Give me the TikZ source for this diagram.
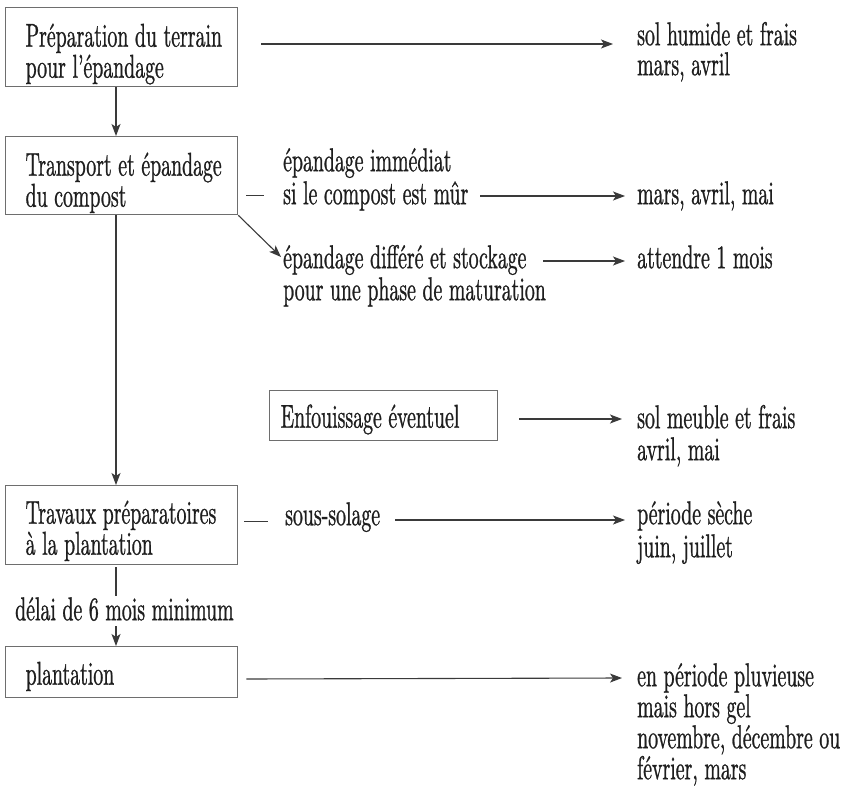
\documentclass[tikz,border=0pt]{standalone}
\usepackage{fontspec}
\setmainfont{lmroman10-regular.otf}[FakeStretch=0.6,FakeBold=0.8]
\usetikzlibrary{calc,arrows.meta}
\definecolor{linec}{HTML}{3A3A3A}
\definecolor{boxc}{HTML}{6E6E6E}
\definecolor{txtc}{HTML}{1E1E1E}
\newcommand{\fstrut}{\rule{0pt}{24pt}}
\newcommand{\tstrut}[1]{\rule{0pt}{#1}}
\newcommand{\dstrut}[1]{\rule[-#1]{0pt}{#1}}
\newcommand{\boxline}[1]{\mbox{\spaceskip=6.6pt\relax #1}}
\begin{document}
\begin{tikzpicture}[x=1pt,y=1pt,
  boxnode/.style={draw=boxc, line width=1.3pt, inner xsep=20pt, inner ysep=0pt,
    text width=192pt, anchor=north west, text=txtc,
    font=\fontsize{33}{31}\selectfont},
  txt/.style={inner sep=0pt, anchor=north west, align=left, text=txtc,
    font=\fontsize{33}{32}\selectfont},
  conn/.style={draw=linec, line width=1.1pt},
  arr/.style={draw=linec, line width=1.1pt, -{Stealth[length=12pt,width=9pt,inset=3pt]}}]
\useasboundingbox (0,0) rectangle (848,-786);
\coordinate (axis) at (116,0);

% boxes
\node[boxnode] (b1) at (5,-7) {\tstrut{39pt}\boxline{Préparation du terrain}\\\boxline{pour l’épandage}\dstrut{9pt}};
\node[boxnode] (b2) at (5,-136) {\tstrut{39pt}\boxline{Transport et épandage}\\\boxline{du compost}\dstrut{8pt}};
\node[boxnode] (b3) at (5,-485) {\tstrut{38pt}\boxline{Travaux préparatoires}\\\boxline{à la plantation}\dstrut{10pt}};
\node[boxnode] (b4) at (5,-646) {\tstrut{38pt}\boxline{plantation}\dstrut{13pt}};
\node[boxnode, inner xsep=11pt, text width=206pt] (benf) at (269,-390) {\tstrut{37pt}\boxline{Enfouissage éventuel}\dstrut{13pt}};

% middle texts
\node[txt, font=\fontsize{33}{33}\selectfont] (eimm) at (283,-147) {\fstrut épandage immédiat\\si le compost est mûr};
\node[txt] (ediff) at (283,-244) {\fstrut épandage différé et stockage\\pour une phase de maturation};
\node[txt] (ssol) at (285,-501) {\fstrut sous-solage};
\node[txt] (delai) at (15,-596) {\fstrut délai de 6 mois minimum};

% right texts
\node[txt, font=\fontsize{33}{30}\selectfont] (r1) at (637,-21) {\fstrut sol humide et frais\\mars, avril};
\node[txt] (r2) at (637,-180) {\fstrut mars, avril, mai};
\node[txt] (r3) at (637,-244) {\fstrut attendre 1 mois};
\node[txt] (r4) at (637,-404) {\fstrut sol meuble et frais\\avril, mai};
\node[txt, font=\fontsize{33}{33}\selectfont] (r5) at (637,-500) {\fstrut période sèche\\juin, juillet};
\node[txt, font=\fontsize{33}{31}\selectfont] (r6) at (637,-662) {\fstrut en période pluvieuse\\mais hors gel\\novembre, décembre ou\\février, mars};

% vertical flow
\draw[arr] (b1.south -| axis) -- (b2.north -| axis);
\draw[arr] (b2.south -| axis) -- (b3.north -| axis);
\draw[conn] ([yshift=-2pt]b3.south -| axis) -- (delai.north -| axis);
\draw[arr, shorten <=5pt] (delai.south -| axis) -- (b4.north -| axis);

% diagonal
\draw[arr] (b2.south east) -- ($(ediff.north west)+(-2,-13)$);

% short dashes
\draw[conn] ($(b2.south east)+(8,20)$) -- ++(18,0);
\draw[conn] ($(b3.south east)+(6,44)$) -- ++(24,0);

% horizontal arrows
\draw[arr] ($(b1.north east)+(23,-37)$) -- ($(r1.north west)+(-24,-23)$);
\draw[arr] ($(eimm.north west)+(197,-49)$) -- ($(r2.north west)+(-12,-16)$);
\draw[arr] ($(ediff.north west)+(260,-17)$) -- ($(r3.north west)+(-12,-17)$);
\draw[arr] ($(benf.north east)+(21,-29)$) -- ($(r4.north west)+(-15,-15)$);
\draw[arr] ($(ssol.north west)+(110,-19)$) -- ($(r5.north west)+(-12,-20)$);
\draw[arr] ($(b4.north east)+(8,-33)$) -- ($(r6.north west)+(-15,-16)$);
\end{tikzpicture}
\end{document}
